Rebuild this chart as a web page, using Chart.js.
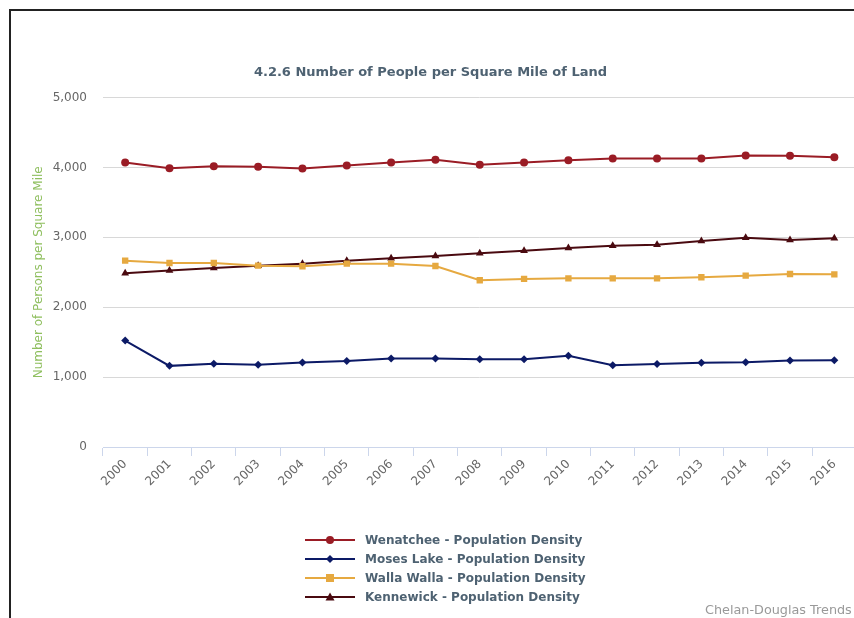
<!DOCTYPE html>
<html>
<head>
<meta charset="utf-8">
<script src="https://cdn.jsdelivr.net/npm/chart.js@4/dist/chart.umd.min.js"></script>
<style>
  html, body { margin: 0; padding: 0; background: #fff; width: 854px; height: 618px; overflow: hidden; position: relative; }
  #frame { position: absolute; left: 9px; top: 9px; width: 900px; height: 700px; border-left: 2px solid #222; border-top: 2px solid #222; }
  #wrap { position: absolute; left: 0; top: 0; width: 861px; height: 618px; }
  #legend { position: absolute; left: 305px; top: 530px; font-family: "DejaVu Sans", sans-serif; font-weight: bold; font-size: 12px; color: #4e6272; }
  .row { height: 19px; display: flex; align-items: center; white-space: nowrap; }
  .row svg { margin-right: 10px; }
  #credits { position: absolute; left: 705px; top: 602px; font-family: "DejaVu Sans", sans-serif; font-size: 12.8px; color: #999; white-space: nowrap; }
</style>
</head>
<body>
<div id="frame"></div>
<div id="wrap"><canvas id="c" width="861" height="618"></canvas></div>
<div id="legend"></div>
<div id="credits">Chelan-Douglas Trends</div>
<script>
const years = ["2000","2001","2002","2003","2004","2005","2006","2007","2008","2009","2010","2011","2012","2013","2014","2015","2016"];
const wenatchee = [4071, 3990, 4019, 4010, 3986, 4029, 4071, 4110, 4038, 4071, 4104, 4129, 4129, 4129, 4171, 4167, 4148];
const mosesLake = [1523, 1161, 1190, 1176, 1209, 1229, 1266, 1266, 1257, 1257, 1305, 1171, 1186, 1205, 1214, 1238, 1243];
const wallaWalla = [2667, 2633, 2633, 2595, 2586, 2624, 2624, 2590, 2386, 2405, 2414, 2414, 2414, 2429, 2452, 2476, 2471];
const kennewick = [2486, 2524, 2562, 2595, 2624, 2667, 2700, 2733, 2771, 2810, 2848, 2881, 2895, 2948, 2995, 2962, 2986];
const seriesNames = ["Wenatchee - Population Density", "Moses Lake - Population Density", "Walla Walla - Population Density", "Kennewick - Population Density"];
const yTicks = [0, 1000, 2000, 3000, 4000, 5000];

const colors = ["#9a1c25", "#0c1a66", "#e6a940", "#4a0a10"];
const styles = ["circle", "rectRot", "rect", "triangle"];
const radii = [4, 4, 4.5, 4.5];
const values = [wenatchee, mosesLake, wallaWalla, kennewick];

const datasets = values.map((v, i) => ({
  label: seriesNames[i],
  data: v,
  borderColor: colors[i],
  backgroundColor: colors[i],
  borderWidth: 2,
  pointStyle: styles[i],
  pointRadius: radii[i],
  pointBorderWidth: 0,
  pointHoverRadius: radii[i],
  tension: 0
}));

new Chart(document.getElementById('c'), {
  type: 'line',
  data: { labels: years, datasets },
  options: {
    responsive: false,
    animation: false,
    events: [],
    layout: { padding: { left: 0, right: 0, top: 0, bottom: 0 } },
    plugins: {
      legend: { display: false },
      tooltip: { enabled: false },
      title: {
        display: true,
        text: "4.2.6 Number of People per Square Mile of Land",
        color: "#4e6272",
        font: { family: "DejaVu Sans", size: 13, weight: "bold" },
        padding: { top: 65, bottom: 17 }
      }
    },
    scales: {
      x: {
        type: 'category',
        offset: true,
        grid: { drawOnChartArea: false, drawTicks: true, tickLength: 9, color: "#ccd6eb", offset: true },
        border: { color: "#ccd6eb", width: 1 },
        ticks: { minRotation: 45, maxRotation: 45, color: "#666", font: { family: "DejaVu Sans", size: 12 }, padding: 1, autoSkip: false },
        afterFit: (s) => { s.height = 171; }
      },
      y: {
        min: 0, max: 5000,
        afterBuildTicks: (s) => { s.ticks = yTicks.map(v => ({ value: v })); },
        grid: { color: "#d8d8d8", drawTicks: false },
        border: { display: false },
        ticks: { color: "#666", font: { family: "DejaVu Sans", size: 12 }, padding: 16,
                 callback: (v) => v.toLocaleString('en-US') },
        title: { display: true, text: "Number of Persons per Square Mile", color: "#8fbf5f",
                 font: { family: "DejaVu Sans", size: 12 }, padding: { top: 32, bottom: 0 } },
        afterFit: (s) => { s.width = 103; }
      }
    }
  }
});

// HTML legend
const legend = document.getElementById('legend');
function markerSvg(i) {
  const c = colors[i];
  let m = '';
  if (styles[i] === 'circle') m = `<circle cx="25" cy="5" r="4" fill="${c}"/>`;
  else if (styles[i] === 'rectRot') m = `<polygon points="25,1 29,5 25,9 21,5" fill="${c}"/>`;
  else if (styles[i] === 'rect') m = `<rect x="21" y="1" width="8" height="8" fill="${c}"/>`;
  else m = `<polygon points="25,0.5 29.5,8.5 20.5,8.5" fill="${c}"/>`;
  return `<svg width="50" height="10" viewBox="0 0 50 10"><line x1="0" y1="5" x2="50" y2="5" stroke="${c}" stroke-width="2"/>${m}</svg>`;
}
seriesNames.forEach((n, i) => {
  const row = document.createElement('div');
  row.className = 'row';
  row.innerHTML = markerSvg(i) + `<span>${n}</span>`;
  legend.appendChild(row);
});
</script>
</body>
</html>
